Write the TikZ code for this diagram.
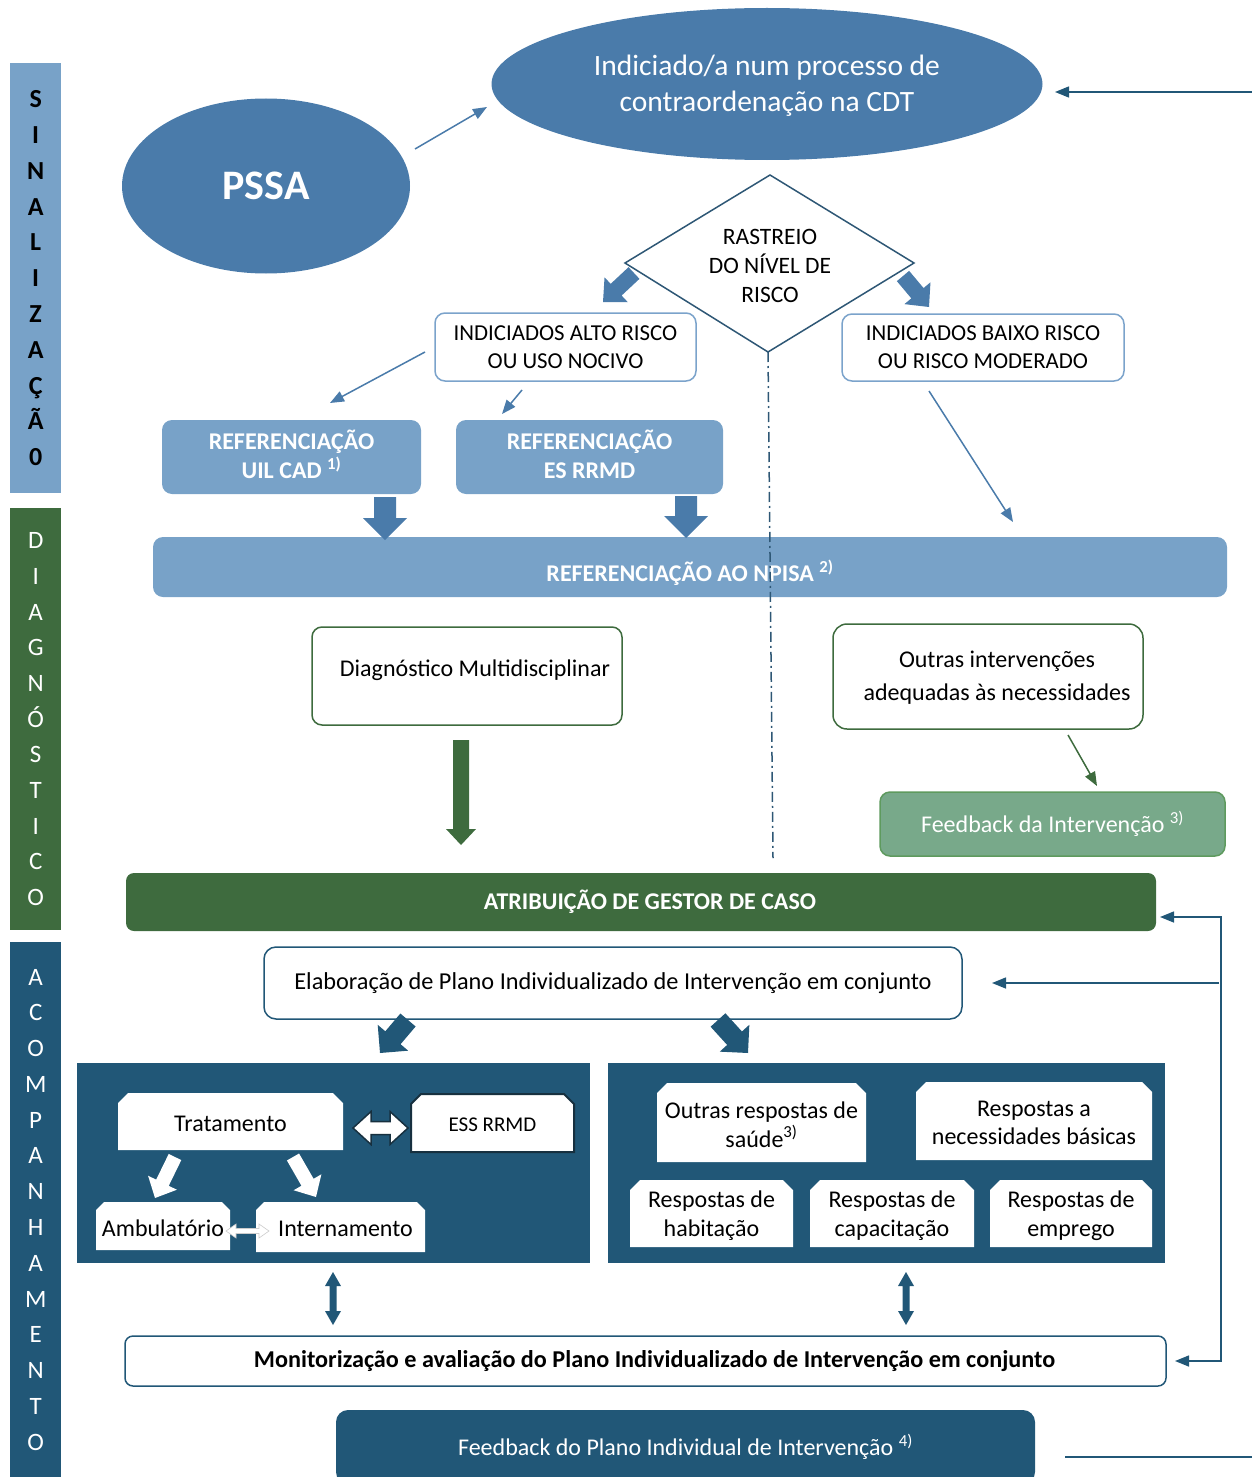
\documentclass[tikz,border=0pt]{standalone}
\usepackage{fontspec}
\setmainfont{Carlito}
\usetikzlibrary{shapes.geometric,arrows.meta,calc}
\definecolor{midblue}{HTML}{4A7BAA}
\definecolor{lightblue}{HTML}{78A2C8}
\definecolor{strokeblue}{HTML}{7BA3CB}
\definecolor{darkblue}{HTML}{215777}
\definecolor{dgreen}{HTML}{3E6B3E}
\definecolor{lgreen}{HTML}{78A98A}
\definecolor{lgreenstroke}{HTML}{5E9A5E}
\definecolor{diastroke}{HTML}{2E5775}
\definecolor{essline}{HTML}{17303F}
\newcommand\fsz[2]{\fontsize{#1}{#2}\selectfont}
% fat arrow: x1 y1 x2 y2 (pixel coords, y downwards) shaft head headlen style
\newcommand\fatarrow[8]{%
\pgfmathsetmacro\fa{atan2(-((#4)-(#2)),(#3)-(#1))}%
\pgfmathsetmacro\fl{veclen((#3)-(#1),(#4)-(#2))}%
\begin{scope}[shift={(#1,-#2)},rotate=\fa]
\path[#8] (0,-#5/2) -- (\fl-#7,-#5/2) -- (\fl-#7,-#6/2) -- (\fl,0) -- (\fl-#7,#6/2) -- (\fl-#7,#5/2) -- (0,#5/2) -- cycle;
\end{scope}}
\newcommand\dblarrow[8]{%
\pgfmathsetmacro\fa{atan2(-((#4)-(#2)),(#3)-(#1))}%
\pgfmathsetmacro\fl{veclen((#3)-(#1),(#4)-(#2))}%
\begin{scope}[shift={(#1,-#2)},rotate=\fa]
\path[#8] (0,0) -- (#7,#6/2) -- (#7,#5/2) -- (\fl-#7,#5/2) -- (\fl-#7,#6/2) -- (\fl,0) -- (\fl-#7,-#6/2) -- (\fl-#7,-#5/2) -- (#7,-#5/2) -- (#7,-#6/2) -- cycle;
\end{scope}}
% snipped box: name x1 y1 x2 y2 cut style text
\newcommand\snipbox[8]{%
\path[#7] (#2,-#5) -- (#2,-#3-#6) -- (#2+#6,-#3) -- (#4-#6,-#3) -- (#4,-#3-#6) -- (#4,-#5) -- cycle;
\node[align=center, inner sep=0pt, font=\fsz{24}{28.5}] (#1) at ({(#2+#4)/2},{-(#3+#5)/2-2}) {#8};}
\begin{document}
\begin{tikzpicture}[x=1pt,y=1pt,
  rbox/.style={draw, fill=white, rounded corners=10pt, line width=1.5pt, align=center, inner sep=0pt, font=\fsz{24}{29}},
  refbox/.style={fill=lightblue, rounded corners=10pt, align=center, inner sep=0pt, text=white, font=\fsz{24}{29}\bfseries},
  side/.style={anchor=north west, inner sep=0pt, minimum width=51pt, text width=51pt, align=center},
  conn/.style={line width=1.5pt, -{Triangle[length=14pt,width=11pt]}},
  panel/.style={fill=darkblue, inner sep=0pt}]
\useasboundingbox (0,0) rectangle (1252,-1477);

% sidebars
\node[side, fill=lightblue, minimum height=430pt, font=\fsz{26}{35.8}\bfseries] (sig) at (10,-63) {S\\I\\N\\A\\L\\I\\Z\\A\\Ç\\Ã\\0};
\node[side, fill=dgreen, minimum height=422pt, text=white, font=\fsz{25}{35.7}] (dia) at (10,-508) {D\\I\\A\\G\\N\\Ó\\S\\T\\I\\C\\O};
\node[side, fill=darkblue, minimum height=535pt, text=white, font=\fsz{25}{35.77}] (aco) at (10,-942) {A\\C\\O\\M\\P\\A\\N\\H\\A\\M\\E\\N\\T\\O};

% top ellipses
\node[ellipse, fill=midblue, minimum width=551pt, minimum height=152pt, inner sep=0pt, text=white, align=center, font=\fsz{29.5}{36}, label={[text=white, align=center, font=\fsz{29.5}{36}, yshift=-2pt]center:Indiciado/a num processo de\\contraordenação na CDT}] (cdt) at (767,-84) {};
\node[ellipse, fill=midblue, minimum width=288pt, minimum height=175pt, inner sep=0pt, text=white, font=\fsz{42}{50}\bfseries] (pssa) at (266,-186) {PSSA};
\coordinate (p1) at (415,-149); \coordinate (p2) at (487,-107);
\draw[conn, midblue] (p1) -- (p2);
\coordinate (r1) at (1252,-92); \coordinate (r2) at (1055,-92);
\draw[conn, darkblue] (r1) -- (r2);

% diamond
\coordinate (dT) at (770,-175); \coordinate (dR) at (914,-263);
\coordinate (dB) at (768,-352); \coordinate (dL) at (625,-263);
\draw[diastroke, line width=1.5pt, fill=white] (dT) -- (dR) -- (dB) -- (dL) -- cycle;
\node[align=center, inner sep=0pt, font=\fsz{23.5}{29}] (rast) at (770,-266) {RASTREIO\\DO NÍVEL DE\\RISCO};
\fatarrow{634}{273}{603}{302}{16}{34}{18}{fill=midblue}
\fatarrow{903}{276}{929}{307}{16}{34}{18}{fill=midblue}

% risk boxes
\node[rbox, draw=strokeblue, minimum width=261pt, minimum height=68pt, font=\fsz{22.8}{28}] (alto) at (565.5,-347) {INDICIADOS ALTO RISCO\\OU USO NOCIVO};
\node[rbox, draw=strokeblue, minimum width=282pt, minimum height=67pt, font=\fsz{22.8}{28}] (baixo) at (983,-347.5) {INDICIADOS BAIXO RISCO\\OU RISCO MODERADO};
\coordinate (a1) at (425,-352); \coordinate (a2) at (330,-403);
\coordinate (a3) at (522,-390); \coordinate (a4) at (502,-414);
\coordinate (b1) at (929,-391); \coordinate (b2) at (1013,-522);
\draw[conn, midblue] (a1) -- (a2);
\draw[conn, midblue] (a3) -- (a4);
\draw[conn, midblue] (b1) -- (b2);

% referenciacao boxes
\node[refbox, minimum width=259pt, minimum height=74pt, label={[text=white, align=center, font=\fsz{24}{29}\bfseries, yshift=3pt]center:REFERENCIAÇÃO\\UIL CAD \textsuperscript{1)}}] (uil) at (291.5,-457) {};
\node[refbox, minimum width=267pt, minimum height=74pt, label={[text=white, align=center, font=\fsz{24}{29}\bfseries, yshift=3pt]center:REFERENCIAÇÃO\\ES RRMD}] (esr) at (589.5,-457) {};
\node[refbox, minimum width=1074pt, minimum height=60pt, label={[text=white, font=\fsz{24}{29}\bfseries, yshift=-6pt]center:REFERENCIAÇÃO AO NPISA \textsuperscript{2)}}] (npisa) at (690,-567) {};
\fatarrow{385}{497}{385}{540}{22}{44}{22}{fill=midblue}
\fatarrow{686}{496}{686}{538}{22}{44}{22}{fill=midblue}

% diagnostico
\node[rbox, draw=dgreen, minimum width=310pt, minimum height=98pt, label={[font=\fsz{24}{29}, xshift=8pt, yshift=6pt]center:Diagnóstico Multidisciplinar}] (diag) at (467,-676) {};
\node[rbox, draw=dgreen, rounded corners=14pt, minimum width=310pt, minimum height=105pt, label={[font=\fsz{24}{33}, align=center, xshift=9pt, yshift=-1pt]center:Outras intervenções\\adequadas às necessidades}] (outint) at (988,-676.5) {};
\fatarrow{461}{740}{461}{845}{16}{30}{16}{fill=dgreen}
\coordinate (g1) at (1068,-735); \coordinate (g2) at (1097,-786);
\draw[conn, dgreen] (g1) -- (g2);
\node[fill=lgreen, draw=lgreenstroke, line width=1.5pt, rounded corners=10pt, minimum width=345pt, minimum height=64pt, inner sep=0pt, text=white, font=\fsz{24}{29}] (fbi) at (1052.5,-824) {Feedback da Intervenção \textsuperscript{3)}};

% atribuicao
\node[fill=dgreen, rounded corners=8pt, minimum width=1030pt, minimum height=58pt, inner sep=0pt, text=white, font=\fsz{24}{29}\bfseries] (atrib) at (641,-902) {\hspace*{18pt}ATRIBUIÇÃO DE GESTOR DE CASO};

% elaboracao
\node[rbox, draw=darkblue, rounded corners=12pt, minimum width=698pt, minimum height=72pt, font=\fsz{24.3}{29}] (elab) at (613,-983) {Elaboração de Plano Individualizado de Intervenção em conjunto};
\coordinate (c0) at (1160,-917); \coordinate (c1) at (1221,-917);
\coordinate (c2) at (1221,-1361); \coordinate (c3) at (1175,-1361);
\draw[darkblue, line width=1.5pt, {Triangle[length=14pt,width=11pt]}-{Triangle[length=14pt,width=11pt]}] (c0) -- (c1) -- (c2) -- (c3);
\coordinate (e1) at (1219,-983); \coordinate (e2) at (992,-983);
\draw[conn, darkblue] (e1) -- (e2);
\fatarrow{408}{1020}{380}{1053}{20}{40}{20}{fill=darkblue}
\fatarrow{718}{1020}{748}{1053}{20}{40}{20}{fill=darkblue}

% left panel
\node[panel, minimum width=513pt, minimum height=200pt] (lpan) at (333.5,-1163) {};
\snipbox{trat}{118}{1093}{343}{1150}{10}{fill=white}{Tratamento}
\snipbox{ess}{411}{1094}{574}{1152}{10}{fill=white, draw=essline, line width=2pt}{\fsz{21}{25}ESS RRMD}
\snipbox{amb}{96}{1202}{230}{1250}{8}{fill=white}{Ambulatório}
\snipbox{intern}{256}{1202}{425}{1252}{8}{fill=white}{\hspace*{10pt}Internamento}
\dblarrow{353}{1128}{408}{1128}{13}{33}{18}{fill=white, draw=essline, line width=1.5pt}
\fatarrow{175}{1157}{155}{1198}{14}{32}{17}{fill=white}
\fatarrow{293}{1157}{316}{1197}{14}{32}{17}{fill=white}
\dblarrow{226}{1231}{269}{1231}{5}{14}{10}{fill=white, draw=gray!40, line width=0.6pt}

% right panel
\node[panel, minimum width=557pt, minimum height=200pt] (rpan) at (886.5,-1163) {};
\snipbox{saude}{657}{1083}{866}{1162}{10}{fill=white}{Outras respostas de\\saúde\textsuperscript{3)}}
\snipbox{basic}{916}{1082}{1152}{1160}{10}{fill=white}{Respostas a\\necessidades básicas}
\snipbox{hab}{630}{1180}{793}{1247}{10}{fill=white}{Respostas de\\habitação}
\snipbox{cap}{810}{1180}{974}{1247}{10}{fill=white}{Respostas de\\capacitação}
\snipbox{emp}{990}{1180}{1152}{1247}{10}{fill=white}{Respostas de\\emprego}

% monitorizacao
\dblarrow{333}{1272}{333}{1325}{7}{16}{14}{fill=darkblue}
\dblarrow{906}{1272}{906}{1325}{7}{16}{14}{fill=darkblue}
\node[rbox, draw=darkblue, rounded corners=8pt, minimum width=1041pt, minimum height=50pt, font=\fsz{24.2}{29}\bfseries] (monit) at (645.5,-1361) {\hspace*{18pt}Monitorização e avaliação do Plano Individualizado de Intervenção em conjunto};
\node[fill=darkblue, rounded corners=12pt, minimum width=699pt, minimum height=74pt, inner sep=0pt, text=white, font=\fsz{24}{29}] (fbp) at (685.5,-1447) {Feedback do Plano Individual de Intervenção \textsuperscript{4)}};
\coordinate (f1) at (1065,-1457); \coordinate (f2) at (1252,-1457);
\draw[darkblue, line width=1.5pt] (f1) -- (f2);

% dash-dot line
\coordinate (dd) at (773,-858);
\draw[diastroke, line width=1.5pt, dash pattern=on 10pt off 4pt on 2pt off 4pt] (dB) -- (dd);
\end{tikzpicture}
\end{document}
